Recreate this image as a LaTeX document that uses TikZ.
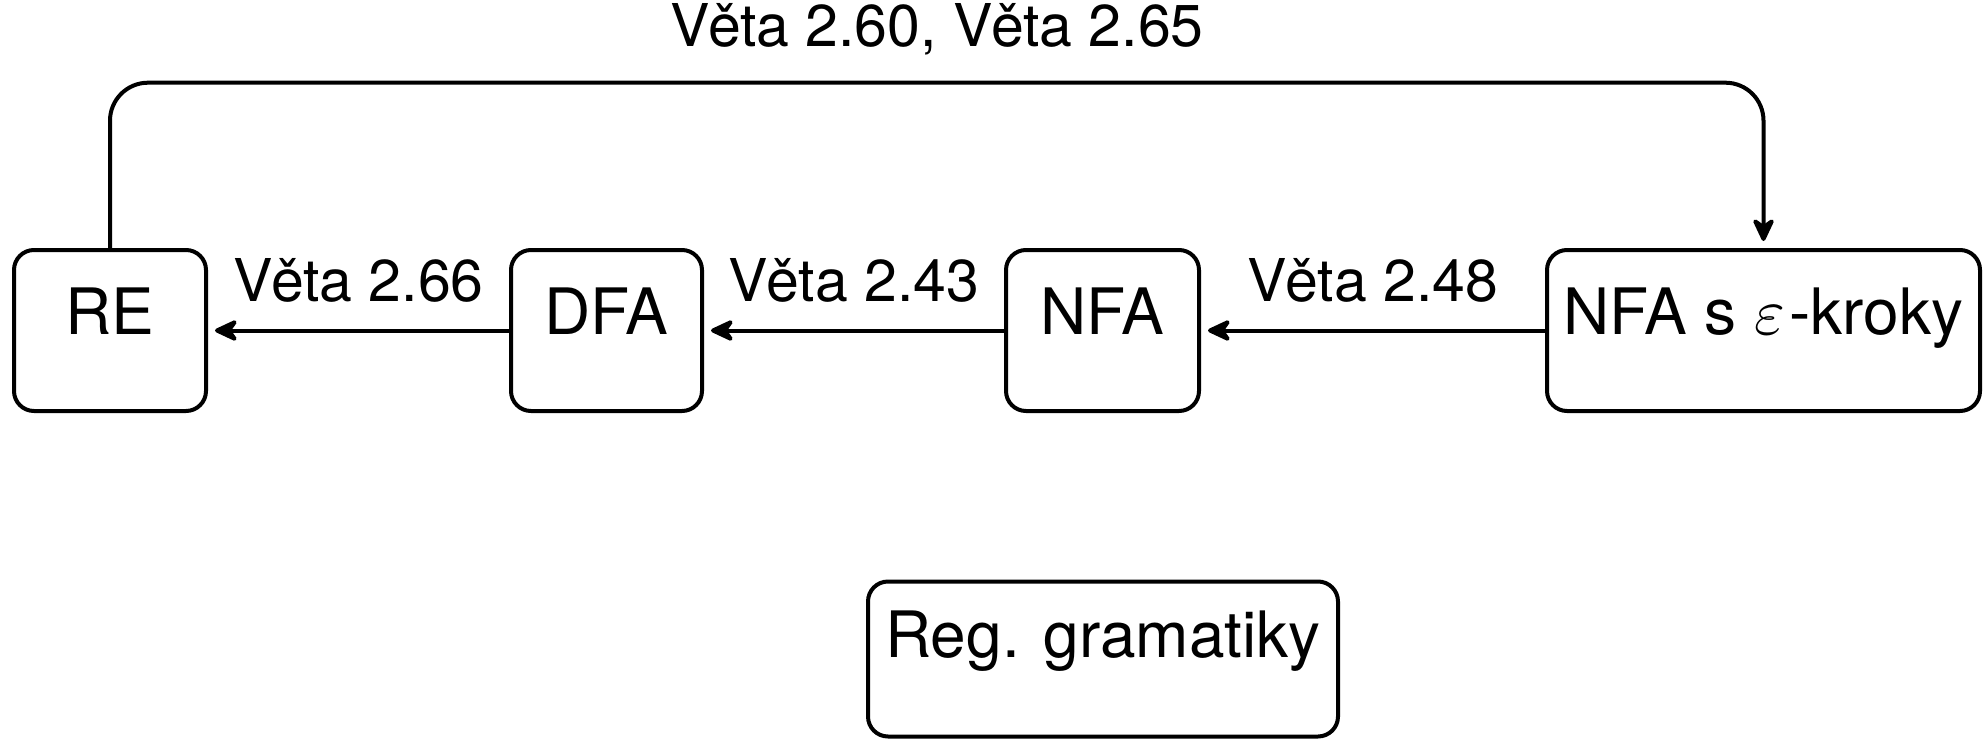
\documentclass[tikz,border=0pt]{standalone}
\usepackage{fontspec}
\setmainfont{TeX Gyre Heros}
\usetikzlibrary{arrows.meta}
\newcommand{\bigeps}{\scalebox{6.6}{\fontsize{10}{12}\selectfont$\varepsilon$}}
\tikzset{
  boxnode/.style={draw, line width=4pt, rounded corners=20pt, inner sep=0pt, outer sep=0pt,
    minimum height=161pt, text height=0.718em, text depth=0pt,
    font=\fontsize{64}{72}\selectfont},
  conn/.style={line width=4pt, -{Stealth[length=28pt,width=26pt,inset=9pt,round]}, shorten >=9pt},
  lbl/.style={inner sep=0pt, font=\fontsize{59}{68}\selectfont, above=26pt}
}
\begin{document}
\begin{tikzpicture}[x=1pt,y=-1pt]
\useasboundingbox (0,0) rectangle (1984,739);
\node[boxnode, minimum width=192pt] (RE) at (110,330.5) {RE};
\node[boxnode, minimum width=191pt] (DFA) at (606.5,330.5) {DFA};
\node[boxnode, minimum width=193pt] (NFA) at (1102.5,330.5) {NFA};
\node[boxnode, minimum width=433pt] (NFAe) at (1763.5,330.5) {NFA s \bigeps\kern4pt-kroky};
\node[boxnode, minimum width=470pt, minimum height=155pt, text depth=10pt] (REG) at (1103,659) {Reg. gramatiky};
\coordinate (top) at (937,82.7);
\draw[conn] (DFA.west) -- node[lbl]{Věta 2.66} (RE.east);
\draw[conn] (NFA.west) -- node[lbl]{Věta 2.43} (DFA.east);
\draw[conn] (NFAe.west) -- node[lbl]{Věta 2.48} (NFA.east);
\draw[conn, rounded corners=38pt] (RE.north) |- (top) node[lbl]{Věta 2.60, Věta 2.65} -| (NFAe.north);
\end{tikzpicture}
\end{document}
